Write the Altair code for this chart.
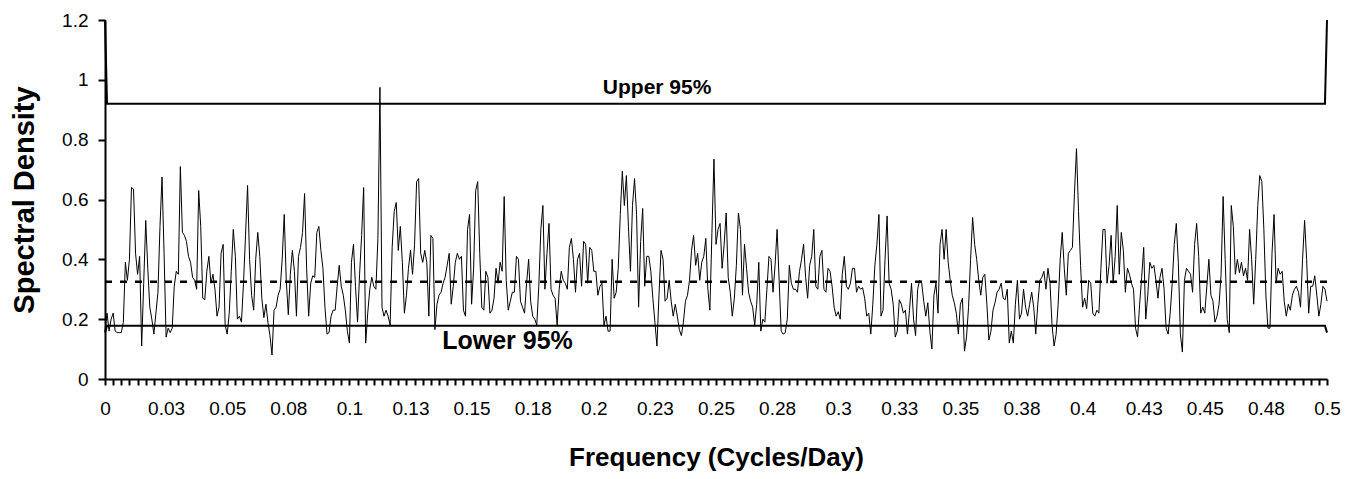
import json
import altair as alt
import pandas as pd

# ---- spectral density values (one per category, step 1/1200) ----
seg_a = [0.16, 0.22, 0.16, 0.20, 0.22, 0.16, 0.155, 0.155, 0.155, 0.19,
         0.39, 0.33, 0.40, 0.64, 0.635, 0.42, 0.35, 0.41, 0.11, 0.32,
         0.53, 0.37, 0.24, 0.20, 0.15, 0.22, 0.29, 0.51, 0.675, 0.42,
         0.14, 0.17, 0.155, 0.17, 0.31, 0.36, 0.35, 0.71, 0.49, 0.48,
         0.46, 0.41, 0.39, 0.34, 0.33, 0.30, 0.63, 0.51, 0.27, 0.265,
         0.36, 0.41, 0.32, 0.35, 0.30, 0.21, 0.24, 0.42, 0.45, 0.18,
         0.15, 0.22]
seg_b = [0.36, 0.50, 0.41, 0.20, 0.21, 0.19, 0.32, 0.48, 0.647, 0.40,
         0.28, 0.23, 0.40, 0.49, 0.41, 0.27, 0.205, 0.25, 0.19, 0.145,
         0.08, 0.23, 0.24, 0.28, 0.30, 0.40, 0.55, 0.33, 0.215, 0.35,
         0.43, 0.36, 0.21, 0.41, 0.44, 0.49, 0.62, 0.37, 0.21, 0.32,
         0.345, 0.34, 0.49, 0.51, 0.43, 0.37, 0.24, 0.15, 0.155, 0.21,
         0.23, 0.23, 0.31, 0.38, 0.31, 0.28, 0.23, 0.16, 0.12, 0.39,
         0.45]
seg_c = [0.31, 0.19, 0.35, 0.48, 0.64, 0.12, 0.22, 0.30, 0.34, 0.31,
         0.30, 0.47, 0.975, 0.24, 0.21, 0.23, 0.21, 0.18, 0.44, 0.56,
         0.59, 0.43, 0.51, 0.39, 0.22, 0.28, 0.37, 0.43, 0.35, 0.45,
         0.66, 0.67, 0.42, 0.39, 0.43, 0.39, 0.21, 0.48, 0.47, 0.165,
         0.25, 0.28, 0.29, 0.32, 0.34, 0.38, 0.42, 0.25, 0.31, 0.39,
         0.42, 0.40, 0.41, 0.23, 0.21, 0.50, 0.55, 0.25, 0.37, 0.63,
         0.66]
seg_d = [0.42, 0.24, 0.23, 0.36, 0.34, 0.22, 0.23, 0.27, 0.37, 0.32,
         0.39, 0.36, 0.61, 0.33, 0.23, 0.26, 0.29, 0.29, 0.41, 0.40,
         0.26, 0.24, 0.22, 0.32, 0.40, 0.26, 0.21, 0.20, 0.18, 0.31,
         0.50, 0.58, 0.30, 0.42, 0.52, 0.30, 0.28, 0.27, 0.18, 0.30,
         0.36, 0.33, 0.32, 0.30, 0.44, 0.47, 0.40, 0.29, 0.40, 0.42,
         0.31, 0.46, 0.45, 0.32, 0.44, 0.43, 0.36, 0.36, 0.28, 0.31,
         0.32, 0.18]
seg_e = [0.21, 0.16, 0.16, 0.40, 0.27, 0.29, 0.37, 0.55, 0.695, 0.58,
         0.68, 0.51, 0.36, 0.58, 0.67, 0.55, 0.24, 0.46, 0.57, 0.31,
         0.41, 0.41, 0.36, 0.27, 0.19, 0.11, 0.28, 0.43, 0.40, 0.26,
         0.27, 0.33, 0.26, 0.21, 0.25, 0.21, 0.165, 0.145, 0.19, 0.26,
         0.28, 0.33, 0.43, 0.48, 0.38, 0.42, 0.33, 0.39, 0.41, 0.47,
         0.30, 0.23, 0.49, 0.735, 0.45, 0.50, 0.52, 0.37, 0.45, 0.555,
         0.34]
seg_f = [0.29, 0.21, 0.27, 0.38, 0.555, 0.50, 0.28, 0.45, 0.37, 0.29,
         0.26, 0.24, 0.18, 0.25, 0.39, 0.16, 0.20, 0.19, 0.30, 0.41,
         0.40, 0.29, 0.38, 0.50, 0.33, 0.16, 0.15, 0.155, 0.20, 0.38,
         0.32, 0.30, 0.30, 0.29, 0.36, 0.40, 0.45, 0.34, 0.27, 0.38,
         0.41, 0.50, 0.31, 0.30, 0.41, 0.43, 0.30, 0.29, 0.37, 0.36,
         0.31, 0.24, 0.21, 0.225, 0.20, 0.35, 0.41, 0.31, 0.30, 0.32,
         0.37, 0.37]
seg_g = [0.29, 0.31, 0.30, 0.305, 0.27, 0.21, 0.22, 0.15, 0.25, 0.38,
         0.45, 0.55, 0.21, 0.23, 0.40, 0.545, 0.32, 0.30, 0.25, 0.14,
         0.16, 0.265, 0.25, 0.22, 0.23, 0.15, 0.23, 0.32, 0.20, 0.145,
         0.30, 0.33, 0.32, 0.26, 0.21, 0.255, 0.16, 0.10, 0.28, 0.32,
         0.22, 0.45, 0.50, 0.40, 0.50, 0.39, 0.33, 0.28, 0.255, 0.22,
         0.15, 0.25, 0.27, 0.093, 0.14, 0.24, 0.40, 0.54, 0.45, 0.40,
         0.33]
seg_h = [0.28, 0.34, 0.35, 0.25, 0.13, 0.16, 0.23, 0.255, 0.29, 0.30,
         0.32, 0.27, 0.265, 0.30, 0.12, 0.16, 0.12, 0.25, 0.33, 0.20,
         0.22, 0.30, 0.24, 0.21, 0.25, 0.29, 0.24, 0.15, 0.25, 0.33,
         0.34, 0.36, 0.30, 0.37, 0.32, 0.18, 0.11, 0.15, 0.25, 0.40,
         0.49, 0.37, 0.28, 0.42, 0.43, 0.44, 0.62, 0.77, 0.56, 0.38,
         0.24, 0.27, 0.235, 0.33, 0.32, 0.22, 0.21, 0.23, 0.22, 0.37,
         0.50]
seg_i = [0.50, 0.32, 0.38, 0.48, 0.32, 0.41, 0.58, 0.35, 0.49, 0.43,
         0.29, 0.37, 0.35, 0.32, 0.30, 0.17, 0.14, 0.25, 0.34, 0.44,
         0.20, 0.28, 0.39, 0.37, 0.38, 0.33, 0.27, 0.34, 0.37, 0.30,
         0.17, 0.15, 0.22, 0.32, 0.45, 0.52, 0.39, 0.15, 0.09, 0.33,
         0.37, 0.36, 0.35, 0.29, 0.45, 0.52, 0.41, 0.22, 0.24, 0.22,
         0.31, 0.40, 0.28, 0.26, 0.19, 0.21, 0.25, 0.35, 0.61, 0.40,
         0.20, 0.155]
seg_j = [0.58, 0.51, 0.35, 0.40, 0.355, 0.39, 0.345, 0.37, 0.33, 0.50,
         0.40, 0.25, 0.40, 0.58, 0.68, 0.66, 0.50, 0.28, 0.17, 0.17,
         0.42, 0.55, 0.32, 0.37, 0.35, 0.36, 0.26, 0.21, 0.25, 0.23,
         0.28, 0.30, 0.31, 0.29, 0.24, 0.40, 0.53, 0.40, 0.22, 0.31,
         0.31, 0.345, 0.28, 0.21, 0.25, 0.31, 0.30, 0.26]

density = seg_a + seg_b + seg_c + seg_d + seg_e + seg_f + seg_g + seg_h + seg_i + seg_j
n = len(density)
freq = [k / 1200 for k in range(n)]

upper_level = 0.92
lower_level = 0.178
mean_level = 0.325
upper_end = 1.2
lower_end = 0.155

upper_band = [upper_end] + [upper_level] * (n - 2) + [upper_end]
lower_band = [lower_end] + [lower_level] * (n - 2) + [lower_end]
mean_band = [mean_level] * n

df = pd.DataFrame({
    "freq": freq,
    "density": density,
    "upper": upper_band,
    "lower": lower_band,
    "mean": mean_band,
})

# ---- x tick labels (Excel category labels every 30 categories) ----
tick_labels = ["0", "0.03", "0.05", "0.08", "0.1", "0.13", "0.15", "0.18", "0.2", "0.23",
               "0.25", "0.28", "0.3", "0.33", "0.35", "0.38", "0.4", "0.43", "0.45", "0.48", "0.5"]
label_values = [i * 0.025 for i in range(len(tick_labels))]
minor_values = [k / 300 for k in range(151)]
axis_values = sorted(set(round(v, 10) for v in label_values + minor_values))
y_ticks = [0, 0.2, 0.4, 0.6, 0.8, 1, 1.2]

label_expr = ("abs(datum.value*40 - round(datum.value*40)) < 1e-6 ? "
              + json.dumps(tick_labels).replace('"', "'")
              + "[round(datum.value*40)] : ''")

FONT = "Liberation Sans"

x_scale = alt.Scale(domain=[0, 0.5], nice=False, zero=False)
y_scale = alt.Scale(domain=[0, 1.2], nice=False)

x_axis = alt.Axis(
    values=axis_values,
    labelExpr=label_expr,
    title="Frequency (Cycles/Day)",
    grid=False,
    domainColor="black", domainWidth=2,
    tickColor="black", tickWidth=2, tickSize=6,
    tickOpacity={"condition": {"test": "abs(datum.value*300 - round(datum.value*300)) > 1e-6",
                               "value": 0}, "value": 1},
    labelFont=FONT, labelFontSize=19, labelColor="black", labelPadding=14,
    labelOverlap=False, labelFlush=False,
    titleFont=FONT, titleFontSize=26, titleFontWeight="bold", titleColor="black",
    titlePadding=26,
)
y_axis = alt.Axis(
    values=y_ticks,
    format="~g",
    title="Spectral Density",
    grid=False,
    domainColor="black", domainWidth=2,
    tickColor="black", tickWidth=2, tickSize=7,
    labelFont=FONT, labelFontSize=19, labelColor="black", labelPadding=10,
    titleFont=FONT, titleFontSize=29, titleFontWeight="bold", titleColor="black",
    titlePadding=22,
)


def xe():
    return alt.X("freq:Q", scale=x_scale, axis=x_axis)


def ye(field):
    return alt.Y(f"{field}:Q", scale=y_scale, axis=y_axis)


base = alt.Chart(df)

spectral = base.mark_line(color="black", strokeWidth=1, interpolate="linear").encode(
    x=xe(), y=ye("density"))
upper = base.mark_line(color="black", strokeWidth=2).encode(x=xe(), y=ye("upper"))
lower = base.mark_line(color="black", strokeWidth=2).encode(x=xe(), y=ye("lower"))
mean = base.mark_line(color="black", strokeWidth=2.5, strokeDash=[7, 8]).encode(
    x=xe(), y=ye("mean"))

ann_text = ["Upper 95%", "Lower 95%"]
ann_x = [0.2259, 0.1647]
ann_y = [0.951, 0.099]
ann = pd.DataFrame({"text": ann_text, "fx": ann_x, "fy": ann_y})

upper_lbl = alt.Chart(ann.iloc[[0]]).mark_text(
    font=FONT, fontSize=21, fontWeight="bold", color="black", align="center",
    baseline="alphabetic").encode(
    x=alt.X("fx:Q", scale=x_scale, axis=x_axis),
    y=alt.Y("fy:Q", scale=y_scale, axis=y_axis),
    text="text:N")
lower_lbl = alt.Chart(ann.iloc[[1]]).mark_text(
    font=FONT, fontSize=25, fontWeight="bold", color="black", align="center",
    baseline="alphabetic").encode(
    x=alt.X("fx:Q", scale=x_scale, axis=x_axis),
    y=alt.Y("fy:Q", scale=y_scale, axis=y_axis),
    text="text:N")

chart = alt.layer(upper, lower, mean, spectral, upper_lbl, lower_lbl).properties(
    width=1222, height=359,
    padding={"left": 97, "top": 12, "right": 24, "bottom": 100},
    autosize=alt.AutoSizeParams(type="none"),
    background="white",
).configure_view(stroke=None)

chart.save("out.html", embed_options={"renderer": "svg", "actions": False})
